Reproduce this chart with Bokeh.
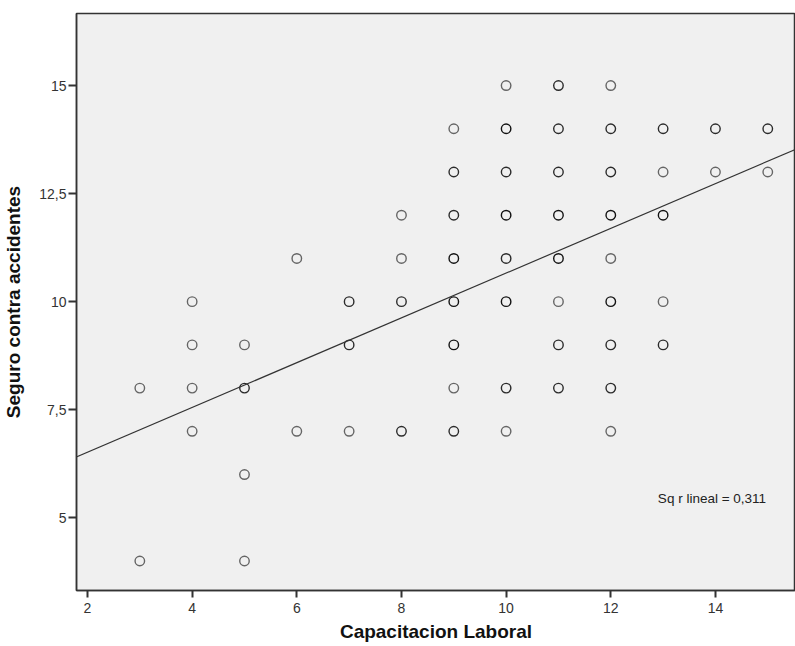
from bokeh.plotting import figure
from bokeh.models import ColumnDataSource, Slope, Label, Range1d, FixedTicker
from bokeh.embed import file_html
from bokeh.resources import INLINE

# Data: (x, y, number of overlapping cases)
cap_x = [3, 3,
         4, 4, 4, 4,
         5, 5, 5, 5,
         6, 6,
         7, 7, 7,
         8, 8, 8, 8,
         9, 9, 9, 9, 9, 9, 9, 9,
         10, 10, 10, 10, 10, 10, 10, 10,
         11, 11, 11, 11, 11, 11, 11, 11,
         12, 12, 12, 12, 12, 12, 12, 12, 12,
         13, 13, 13, 13, 13,
         14, 14,
         15, 15]
seg_y = [8, 4,
         10, 9, 8, 7,
         9, 8, 6, 4,
         11, 7,
         10, 9, 7,
         12, 11, 10, 7,
         14, 13, 12, 11, 10, 9, 8, 7,
         15, 14, 13, 12, 11, 10, 8, 7,
         15, 14, 13, 12, 11, 10, 9, 8,
         15, 14, 13, 12, 11, 10, 9, 8, 7,
         14, 13, 12, 10, 9,
         14, 13,
         14, 13]
n_cases = [1, 1,
           1, 1, 1, 1,
           1, 2, 1, 1,
           1, 1,
           2, 2, 1,
           1, 1, 2, 2,
           1, 2, 2, 3, 3, 3, 1, 2,
           1, 3, 2, 3, 2, 3, 2, 1,
           2, 2, 2, 3, 3, 1, 2, 2,
           1, 2, 2, 3, 1, 3, 2, 2, 1,
           2, 1, 3, 1, 2,
           2, 1,
           2, 1]

fit_intercept = 5.48
fit_slope = 0.518
r2_text = "Sq r lineal = 0,311"

x_ticks = [2, 4, 6, 8, 10, 12, 14]
y_ticks = [5, 7.5, 10, 12.5, 15]
y_tick_labels = {5: "5", 7.5: "7,5", 10: "10", 12.5: "12,5", 15: "15"}

alphas = [1 - 0.42 ** n for n in n_cases]
src = ColumnDataSource(dict(x=cap_x, y=seg_y, a=alphas))

p = figure(width=795, height=646, output_backend="svg", toolbar_location=None,
           x_range=Range1d(1.79, 15.53), y_range=Range1d(3.317, 16.667),
           min_border_left=75, min_border_top=13, min_border_right=0,
           min_border_bottom=56)
p.background_fill_color = "#F0F0F0"
p.border_fill_color = "white"
p.outline_line_color = "#333333"
p.outline_line_width = 1.5
p.grid.visible = False

p.scatter("x", "y", source=src, marker="circle", size=9.5, fill_color=None,
          line_color="black", line_alpha="a", line_width=1.4)

p.add_layout(Slope(gradient=fit_slope, y_intercept=fit_intercept,
                   line_color="#333333", line_width=1.2))

p.add_layout(Label(x=12.9, y=5.45, text=r2_text, text_font="Liberation Sans",
                   text_font_size="13.5px", text_color="#222222",
                   text_baseline="middle"))

for ax in (p.xaxis[0], p.yaxis[0]):
    ax.axis_line_color = "#333333"
    ax.axis_line_width = 1.5
    ax.major_tick_line_color = "#333333"
    ax.major_tick_line_width = 2
    ax.major_tick_in = 0
    ax.minor_tick_line_color = None
    ax.major_label_text_font = "Liberation Sans"
    ax.major_label_text_font_size = "14px"
    ax.major_label_text_color = "#333333"
    ax.axis_label_text_font = "Liberation Sans"
    ax.axis_label_text_font_style = "bold"
    ax.axis_label_text_font_size = "19px"
    ax.axis_label_text_color = "#111111"

p.xaxis[0].major_tick_out = 7
p.yaxis[0].major_tick_out = 8
p.xaxis[0].ticker = FixedTicker(ticks=x_ticks)
p.yaxis[0].ticker = FixedTicker(ticks=y_ticks)
p.yaxis[0].major_label_overrides = y_tick_labels
p.yaxis[0].major_label_orientation = "horizontal"
p.xaxis[0].axis_label = "Capacitacion Laboral"
p.yaxis[0].axis_label = "Seguro contra accidentes"
p.xaxis[0].major_label_standoff = 5
p.yaxis[0].major_label_standoff = 2
p.xaxis[0].axis_label_standoff = 5
p.yaxis[0].axis_label_standoff = 12

open("out.html", "w").write(file_html(p, INLINE))
